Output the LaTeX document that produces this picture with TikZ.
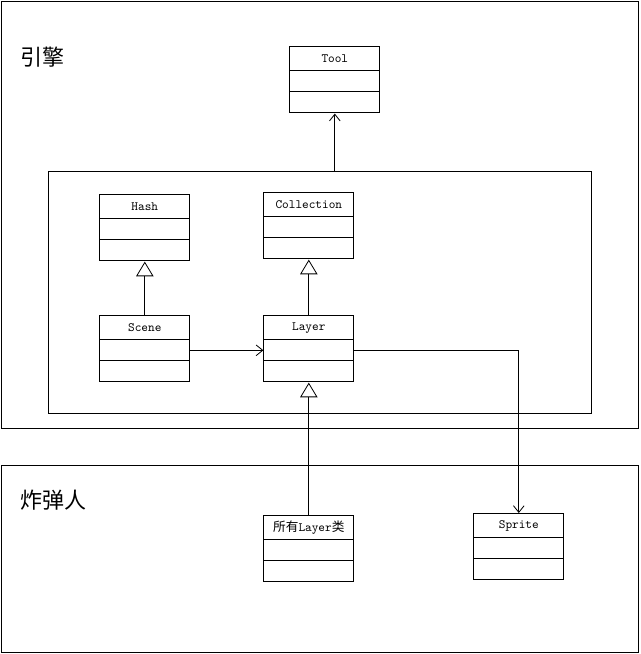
\documentclass[tikz,border=0pt]{standalone}
\usepackage{fontspec}
\newfontfamily\cjk{Noto Sans CJK SC}
\usetikzlibrary{matrix,fit,arrows.meta}

\begin{document}
\begin{tikzpicture}[x=0.75pt,y=-0.75pt,line width=0.6pt,
    umlclass/.style={matrix of nodes,nodes in empty cells,anchor=north west,inner sep=0pt,
      row sep=-\pgflinewidth,
      nodes={draw,minimum width=67.5pt,minimum height=15.75pt,inner sep=1pt,font=\fontsize{9.5}{10}\selectfont\ttfamily},
      row 1/.style={nodes={minimum height=18pt}}},
    frame/.style={draw,inner sep=0pt},
    title/.style={anchor=west,font=\cjk\fontsize{16.5}{18}\selectfont},
    uses/.style={-{Straight Barb[length=5pt,width=8pt]}},
    inherits/.style={-{Triangle[open,length=11pt,width=13pt,fill=white]}}]

    \useasboundingbox (0,0) rectangle (640,654);

    % two package frames
    \node (engine) [frame,fit={(1,1) (638,428)}] {};
    \node (bomber) [frame,fit={(1,465) (638,652)}] {};
    \node (inner) [frame,fit={(48,171) (591,413)}] {};

    \node (enginelabel) [title] at (16,57) {引擎};
    \node (bomberlabel) [title] at (16,500) {炸弹人};

    % classes
    \matrix (tool) [umlclass] at (289,46) { Tool \\ \\ \\ };
    \matrix (hash) [umlclass] at (99,194) { Hash \\ \\ \\ };
    \matrix (collection) [umlclass] at (263,192) { Collection \\ \\ \\ };
    \matrix (scene) [umlclass] at (99,315) { Scene \\ \\ \\ };
    \matrix (layer) [umlclass] at (263,315) { Layer \\ \\ \\ };
    \matrix (alllayer) [umlclass] at (263,515) { {\cjk 所有}Layer{\cjk 类} \\ \\ \\ };
    \matrix (sprite) [umlclass] at (473,513) { Sprite \\ \\ \\ };

    % relations
    \draw[uses] (inner.north -| tool.south) -- (tool.south);
    \draw[inherits] (scene.north) -- (hash.south);
    \draw[inherits] (layer.north) -- (collection.south);
    \draw[inherits] (alllayer.north) -- (layer.south);
    \draw[uses] (scene-2-1.east) -- (layer-2-1.west);
    \draw[uses] (layer-2-1.east) -| (sprite.north);
\end{tikzpicture}
\end{document}
